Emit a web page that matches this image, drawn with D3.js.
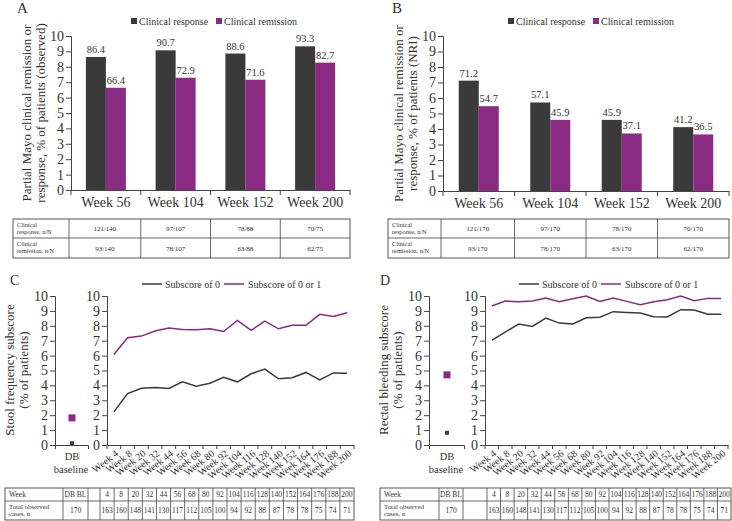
<!DOCTYPE html>
<html><head><meta charset="utf-8">
<script src="https://cdn.jsdelivr.net/npm/d3@7"></script>
<style>body{margin:0;background:#fff}</style>
</head><body>
<script>
// ---------- DATA ----------
const barCategories = ["Week 56", "Week 104", "Week 152", "Week 200"];
const observedResponse = [86.4, 90.7, 88.6, 93.3];
const observedRemission = [66.4, 72.9, 71.6, 82.7];
const nriResponse = [71.2, 57.1, 45.9, 41.2];
const nriRemission = [54.7, 45.9, 37.1, 36.5];
const observedResponseN = ["121/140", "97/107", "78/88", "70/75"];
const observedRemissionN = ["93/140", "78/107", "63/88", "62/75"];
const nriResponseN = ["121/170", "97/170", "78/170", "70/170"];
const nriRemissionN = ["93/170", "78/170", "63/170", "62/170"];
const yTickLabels = [0, 1, 2, 3, 4, 5, 6, 7, 8, 9, 10];

const weeks = [4, 8, 20, 32, 44, 56, 68, 80, 92, 104, 116, 128, 140, 152, 164, 176, 188, 200];
const stoolScore0 = [22.2, 34.5, 38.1, 38.6, 37.9, 42.4, 39.5, 41.5, 45.5, 42.4, 47.8, 50.9, 44.4, 45.1, 48.7, 43.7, 48.4, 48.2];
const stoolScore01 = [60.8, 72.0, 73.1, 76.5, 78.5, 77.6, 77.4, 78.0, 76.2, 83.6, 76.9, 83.2, 78.0, 80.3, 80.3, 87.7, 86.3, 88.8];
const bleedScore0 = [70.2, 75.8, 81.2, 79.6, 85.2, 81.8, 81.2, 85.4, 85.7, 89.5, 89.0, 88.6, 86.1, 85.9, 90.8, 90.6, 87.7, 87.7];
const bleedScore01 = [93.3, 96.6, 96.2, 96.6, 98.7, 96.2, 98.2, 100, 96.4, 98.7, 96.4, 94.2, 96.2, 97.5, 100, 96.9, 98.4, 98.4];
const stoolBaseline0 = 1.2, stoolBaseline01 = 18.2;
const bleedBaseline0 = 8.2, bleedBaseline01 = 47.1;
const observedCases = [163, 160, 148, 141, 130, 117, 112, 105, 100, 94, 92, 88, 87, 78, 78, 75, 74, 71];
const baselineCases = 170;

// ---------- STYLE ----------
const DARK = "#3a3a3a", PURPLE = "#8b2a82", TXT = "#333", AX = "#444";
const FONT = "'Liberation Serif','Times New Roman',serif";
const svg = d3.select("body").append("svg").attr("width", 732).attr("height", 521)
  .style("font-family", FONT);

function styleAxis(a, size) {
  a.attr("font-family", FONT);
  a.selectAll("text").attr("font-size", size).attr("fill", TXT);
  a.selectAll("line,path").attr("stroke", AX);
}
function rotLabel(lines, cx, cy, gap, size) {
  lines.forEach((t, i) => {
    svg.append("text").attr("transform", `translate(${cx + i * gap},${cy}) rotate(-90)`)
      .attr("text-anchor", "middle").attr("dy", "0.35em").attr("font-size", size)
      .attr("fill", TXT).text(t);
  });
}
function letter(t, x, y, size) {
  svg.append("text").attr("x", x).attr("y", y).attr("font-size", size).attr("fill", TXT).text(t);
}
function drawTable(xs, ys, rows, labelSize, valSize) {
  const g = svg.append("g");
  g.append("rect").attr("x", xs[0]).attr("y", ys[0])
    .attr("width", xs[xs.length - 1] - xs[0]).attr("height", ys[ys.length - 1] - ys[0])
    .attr("fill", "none").attr("stroke", AX).attr("stroke-width", 0.9);
  xs.slice(1, -1).forEach(x => g.append("line").attr("x1", x).attr("x2", x)
    .attr("y1", ys[0]).attr("y2", ys[ys.length - 1]).attr("stroke", AX).attr("stroke-width", 0.8));
  ys.slice(1, -1).forEach(y => g.append("line").attr("x1", xs[0]).attr("x2", xs[xs.length - 1])
    .attr("y1", y).attr("y2", y).attr("stroke", AX).attr("stroke-width", 0.8));
  rows.forEach((row, ri) => {
    const mid = (ys[ri] + ys[ri + 1]) / 2;
    row.forEach((cell, ci) => {
      if (cell === "" || cell == null) return;
      if (ci === 0) {
        const lines = Array.isArray(cell) ? cell : [cell];
        lines.forEach((t, li) => {
          const by = lines.length === 1 ? mid + 2.5 : mid - 1.8 + li * 6.8;
          g.append("text").attr("x", xs[0] + 4).attr("y", by).attr("font-size", lines.length === 1 ? labelSize : labelSize - 0.7)
            .attr("fill", TXT).text(t);
        });
      } else {
        g.append("text").attr("x", (xs[ci] + xs[ci + 1]) / 2).attr("y", mid + 2.5)
          .attr("text-anchor", "middle").attr("font-size", valSize).attr("fill", TXT).text(cell);
      }
    });
  });
}

// ---------- BAR PANELS ----------
function barPanel(c) {
  const y = d3.scaleLinear().domain([0, 100]).range([c.yBottom, c.yTop]);
  const x = d3.scaleBand().domain(barCategories).range([c.xLeft, c.xRight]);
  const bw = 20;
  const g = svg.append("g");
  g.append("g").attr("transform", `translate(${c.xLeft},0)`)
    .call(d3.axisLeft(y).tickValues(yTickLabels.map(v => v * 10)).tickFormat(d => d / 10).tickSize(5).tickPadding(2))
    .call(a => styleAxis(a, 14));
  const xa = g.append("g").attr("transform", `translate(0,${c.yBottom})`)
    .call(d3.axisBottom(x).tickSize(0).tickPadding(7));
  styleAxis(xa, 14);
  [...barCategories.map(d => x(d)), c.xRight].forEach(b =>
    xa.append("line").attr("x1", b).attr("x2", b).attr("y1", 0).attr("y2", 5).attr("stroke", AX));
  const series = [{v: c.resp, col: DARK, off: -bw}, {v: c.rem, col: PURPLE, off: 0}];
  series.forEach(s => {
    barCategories.forEach((cat, i) => {
      const cx = x(cat) + x.bandwidth() / 2 + s.off;
      g.append("rect").attr("x", cx).attr("width", bw).attr("y", y(s.v[i]))
        .attr("height", y(0) - y(s.v[i])).attr("fill", s.col);
      g.append("text").attr("x", cx + bw / 2).attr("y", y(s.v[i]) - 4).attr("text-anchor", "middle")
        .attr("font-size", 10.5).attr("fill", TXT).text(s.v[i].toFixed(1));
    });
  });
  // legend
  const lg = svg.append("g").attr("transform", `translate(${c.legendX},0)`);
  lg.append("rect").attr("x", 0).attr("y", 18).attr("width", 6).attr("height", 6).attr("fill", DARK);
  lg.append("text").attr("x", 8).attr("y", 24.5).attr("font-size", 10).attr("fill", TXT).text("Clinical response");
  lg.append("rect").attr("x", 85).attr("y", 18).attr("width", 6).attr("height", 6).attr("fill", PURPLE);
  lg.append("text").attr("x", 93).attr("y", 24.5).attr("font-size", 10).attr("fill", TXT).text("Clinical remission");
  rotLabel(["Partial Mayo clinical remission or", c.ylab2], c.ylabX, (c.yTop + c.yBottom) / 2, 14, 13);
  letter(c.letter, c.letterX, 13, 15);
  const xs = [c.tableLeft, ...barCategories.map(d => x(d) - (d === barCategories[0] ? 2 : 0)), c.xRight];
  drawTable(xs, [219, 238, 258], [
    [["Clinical", "response, n/N"], ...c.respN],
    [["Clinical", "remission, n/N"], ...c.remN]
  ], 7, 7);
}

barPanel({letter: "A", letterX: 17, xLeft: 71, xRight: 350, yTop: 36, yBottom: 190,
  resp: observedResponse, rem: observedRemission, respN: observedResponseN, remN: observedRemissionN,
  ylab2: "response, % of patients (observed)", ylabX: 26, legendX: 131, tableLeft: 13});
barPanel({letter: "B", letterX: 392, xLeft: 443, xRight: 729, yTop: 36, yBottom: 191,
  resp: nriResponse, rem: nriRemission, respN: nriResponseN, remN: nriRemissionN,
  ylab2: "response, % of patients (NRI)", ylabX: 398, legendX: 508, tableLeft: 388});

// ---------- LINE PANELS ----------
function linePanel(c) {
  const y = d3.scaleLinear().domain([0, 100]).range([445, 296]);
  const g = svg.append("g");
  const yAxis = d3.axisLeft(y).tickValues(yTickLabels.map(v => v * 10)).tickFormat(d => d / 10).tickSize(5).tickPadding(2);
  // small baseline axis
  g.append("g").attr("transform", `translate(${c.smallX},0)`).call(yAxis).call(a => styleAxis(a, 14));
  const sx = d3.scaleLinear().domain([0, 1]).range([c.smallX, c.smallRight]);
  g.append("g").attr("transform", `translate(0,${y(0)})`)
    .call(d3.axisBottom(sx).tickValues([]).tickSizeOuter(4)).call(a => styleAxis(a, 10));
  const bx = (c.smallX + c.smallRight) / 2 + 0.5;
  g.append("rect").attr("x", bx - 3.5).attr("y", y(c.base01) - 3.5).attr("width", 7).attr("height", 7).attr("fill", PURPLE);
  g.append("rect").attr("x", bx - 2).attr("y", y(c.base0) - 2).attr("width", 4).attr("height", 4).attr("fill", DARK);
  g.append("text").attr("x", bx).attr("y", 460).attr("text-anchor", "middle").attr("font-size", 10.5).attr("fill", TXT).text("DB");
  g.append("text").attr("x", bx - 1).attr("y", 473).attr("text-anchor", "middle").attr("font-size", 10.5).attr("fill", TXT).text("baseline");
  // main axis
  g.append("g").attr("transform", `translate(${c.mainLeft},0)`).call(yAxis).call(a => styleAxis(a, 14));
  const xb = d3.scaleBand().domain(weeks).range([c.mainLeft, c.mainRight]);
  const xa = g.append("g").attr("transform", `translate(0,${y(0)})`)
    .call(d3.axisBottom(xb).tickSize(0).tickFormat(""));
  styleAxis(xa, 10);
  [...weeks.map(w => xb(w)), c.mainRight].forEach(b =>
    xa.append("line").attr("x1", b).attr("x2", b).attr("y1", 0).attr("y2", 4).attr("stroke", AX));
  weeks.forEach(w => {
    g.append("text").attr("transform", `translate(${xb(w) + xb.bandwidth() / 2 + 3},${y(0) + 7}) rotate(-38)`)
      .attr("text-anchor", "end").attr("dy", "0.35em").attr("font-size", 10).attr("fill", TXT).text("Week " + w);
  });
  const line = d3.line().x((d, i) => xb(weeks[i]) + xb.bandwidth() / 2).y(d => y(d));
  g.append("path").datum(c.s0).attr("d", line).attr("fill", "none").attr("stroke", DARK).attr("stroke-width", 1.5);
  g.append("path").datum(c.s01).attr("d", line).attr("fill", "none").attr("stroke", PURPLE).attr("stroke-width", 1.5);
  // legend
  const L = c.legend;
  g.append("line").attr("x1", L[0]).attr("x2", L[0] + 20).attr("y1", 284).attr("y2", 284).attr("stroke", DARK).attr("stroke-width", 1.5);
  g.append("text").attr("x", L[0] + 23).attr("y", 287.5).attr("font-size", 10).attr("fill", TXT).text("Subscore of 0");
  g.append("line").attr("x1", L[1]).attr("x2", L[1] + 20).attr("y1", 284).attr("y2", 284).attr("stroke", PURPLE).attr("stroke-width", 1.5);
  g.append("text").attr("x", L[1] + 24).attr("y", 287.5).attr("font-size", 10).attr("fill", TXT).text("Subscore of 0 or 1");
  rotLabel(c.ylab, c.ylabX, 370, 14, 13);
  letter(c.letter, c.letterX, 285, 14);
  const tx = d3.scaleBand().domain(weeks).range([c.tEmpty, c.tRight]);
  const xs = [c.tLeft, c.tFirst, c.tDB, ...weeks.map(w => tx(w)), c.tRight];
  drawTable(xs, [488, 501, 520], [
    ["Week", "DB BL", "", ...weeks.map(String)],
    [["Total observed", "cases, n"], String(baselineCases), "", ...observedCases.map(String)]
  ], 7.5, 7.5);
}

linePanel({letter: "C", letterX: 10, smallX: 55, smallRight: 88, mainLeft: 107, mainRight: 354,
  s0: stoolScore0, s01: stoolScore01, base0: stoolBaseline0, base01: stoolBaseline01,
  legend: [142, 224], ylab: ["Stool frequency subscore", "(% of patients)"], ylabX: 9,
  tLeft: 5, tFirst: 63, tDB: 88, tEmpty: 100, tRight: 354});
linePanel({letter: "D", letterX: 380, smallX: 429, smallRight: 464, mainLeft: 485, mainRight: 728,
  s0: bleedScore0, s01: bleedScore01, base0: bleedBaseline0, base01: bleedBaseline01,
  legend: [519, 601], ylab: ["Rectal bleeding subscore", "(% of patients)"], ylabX: 383,
  tLeft: 380, tFirst: 439, tDB: 463, tEmpty: 487, tRight: 731});
</script>
</body></html>
